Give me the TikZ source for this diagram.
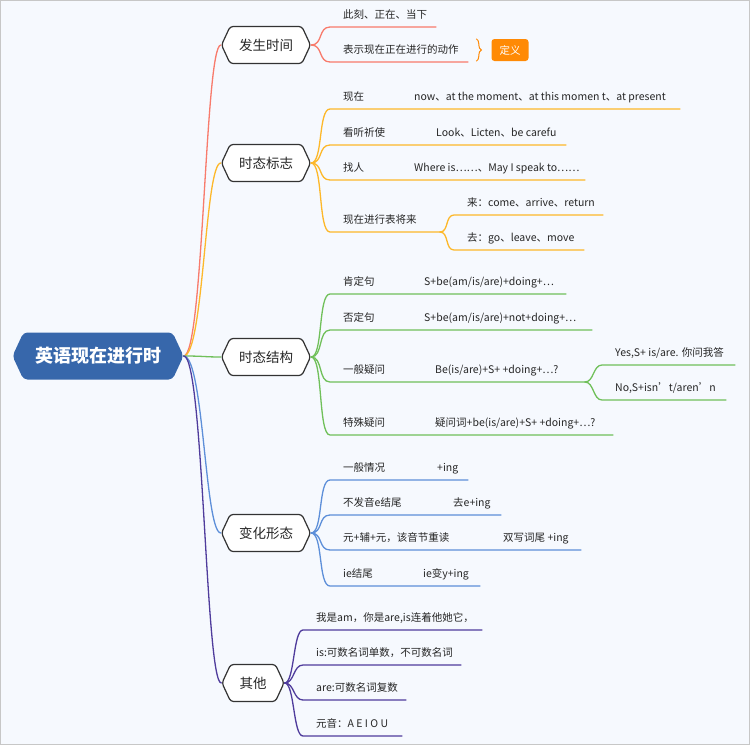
\documentclass[tikz,border=0pt]{standalone}
\usepackage{fontspec}
\setmainfont{Noto Sans CJK SC}
\usetikzlibrary{shapes.symbols, decorations.pathreplacing}
\definecolor{bgcol}{HTML}{F6F9FE}
\definecolor{rootcol}{HTML}{3767AB}
\definecolor{redcol}{HTML}{F87B6C}
\definecolor{yelcol}{HTML}{FDB82A}
\definecolor{grecol}{HTML}{70C05A}
\definecolor{blucol}{HTML}{5D8FD9}
\definecolor{purcol}{HTML}{4F3C9C}
\definecolor{defcol}{HTML}{FF8A05}
\tikzset{
  rootnode/.style={signal, signal to=east and west, signal pointer angle=130, fill=rootcol, rounded corners=4pt,
    minimum width=171pt, minimum height=47pt, inner sep=0pt, text=white, font=\fontsize{18}{20}\selectfont\bfseries},
  topic/.style={signal, signal to=east and west, signal pointer angle=130, draw=black!80, line width=1.2pt, fill=white,
    rounded corners=3pt, minimum width=89pt, minimum height=37pt, inner sep=0pt, text=black!85, font=\fontsize{13.5}{16}\selectfont},
  leaf/.style={anchor=south west, inner xsep=0pt, inner ysep=6pt, text height=9pt, text depth=2pt, text=black!85,
    font=\fontsize{10.5}{12}\selectfont},
  twig/.style={line width=1.3pt, line cap=round},
}

\begin{document}
\begin{tikzpicture}[x=1pt, y=-1pt]
  \fill[bgcol] (0,0) rectangle (750,745);
  \useasboundingbox (0,0) rectangle (750,745);
  \draw[black!22, line width=1pt] (0.5,0.5) rectangle (749.5,744.5);
  % Nodes
  \node[rootnode] (root) at (98,356) {英语现在进行时};
  \node[topic] (t1) at (266,45) {发生时间};
  \node[topic] (t2) at (266,163) {时态标志};
  \node[topic] (t3) at (266,357) {时态结构};
  \node[topic] (t4) at (266,533) {变化形态};
  \node[topic, minimum width=62pt] (t5) at (253,683) {其他};
  % Leaves: time
  \node[leaf] (a1) at (343,27) {此刻、正在、当下};
  \node[leaf] (a2) at (343,62) {表示现在正在进行的动作};
  \node[fill=defcol, rounded corners=3pt, minimum width=37pt, minimum height=22pt, inner sep=0pt, text=white,
    font=\fontsize{10.5}{12}\selectfont] (def) at (510,50) {定义};
  % Leaves: signal words
  \node[leaf] (b1) at (343,109) {现在};
  \node[leaf] (b1x) at (414,109) {now、at the moment、at this momen t、at present};
  \node[leaf] (b2) at (343,145) {看听祈使};
  \node[leaf] (b2x) at (436,145) {Look、Licten、be carefu};
  \node[leaf] (b3) at (343,180) {找人};
  \node[leaf] (b3x) at (414,180) {Where is……、May I speak to……};
  \node[leaf] (b4) at (343,232) {现在进行表将来};
  \node[leaf] (b5) at (467,215) {来：come、arrive、return};
  \node[leaf] (b6) at (467,250) {去：go、leave、move};
  % Leaves: structure
  \node[leaf] (c1) at (343,294) {肯定句};
  \node[leaf] (c1x) at (424,294) {S+be(am/is/are)+doing+…};
  \node[leaf] (c2) at (343,330) {否定句};
  \node[leaf] (c2x) at (424,330) {S+be(am/is/are)+not+doing+…};
  \node[leaf] (c3) at (343,382) {一般疑问};
  \node[leaf] (c3x) at (435,382) {Be(is/are)+S+ +doing+…?};
  \node[leaf] (c4) at (615,365) {Yes,S+ is/are. 你问我答};
  \node[leaf] (c5) at (615,400) {No,S+isn’t/aren’n};
  \node[leaf] (c6) at (343,435) {特殊疑问};
  \node[leaf] (c6x) at (435,435) {疑问词+be(is/are)+S+ +doing+…?};
  % Leaves: spelling
  \node[leaf] (d1) at (343,480) {一般情况};
  \node[leaf] (d1x) at (437,480) {+ing};
  \node[leaf] (d2) at (343,515) {不发音e结尾};
  \node[leaf] (d2x) at (453,515) {去e+ing};
  \node[leaf] (d3) at (343,550) {元+辅+元，该音节重读};
  \node[leaf] (d3x) at (503,550) {双写词尾 +ing};
  \node[leaf] (d4) at (343,586) {ie结尾};
  \node[leaf] (d4x) at (423,586) {ie变y+ing};
  % Leaves: other
  \node[leaf] (e1) at (316,630) {我是am，你是are,is连着他她它，};
  \node[leaf] (e2) at (316,665) {is:可数名词单数，不可数名词};
  \node[leaf] (e3) at (316,700) {are:可数名词复数};
  \node[leaf] (e4) at (316,736) {元音：A E I O U};
  % Paths
  \draw[twig, redcol] (root.east) .. controls +(20,0) and +(-16,0) .. (t1.west);
  \draw[twig, yelcol] (root.east) .. controls +(20,0) and +(-16,0) .. (t2.west);
  \draw[twig, grecol] (root.east) .. controls +(20,0) and +(-16,0) .. (t3.west);
  \draw[twig, blucol] (root.east) .. controls +(20,0) and +(-16,0) .. (t4.west);
  \draw[twig, purcol] (root.east) .. controls +(20,0) and +(-16,0) .. (t5.west);
  \foreach \leafname/\len in {a1/106, a2/138}
    \draw[twig, redcol] (t1.east) .. controls +(12,0) and +(-12,0) .. ([xshift=-13pt]\leafname.south west) -- ++(\len,0);
  \draw[defcol, line width=1pt, decorate, decoration={brace, amplitude=5pt}]
    ([xshift=-15pt]def.north west) -- ([xshift=-15pt]def.south west);
  \foreach \leafname/\len in {b1/350, b2/236, b3/255}
    \draw[twig, yelcol] (t2.east) .. controls +(12,0) and +(-12,0) .. ([xshift=-13pt]\leafname.south west) -- ++(\len,0);
  \draw[twig, yelcol] (t2.east) .. controls +(12,0) and +(-12,0) .. ([xshift=-13pt]b4.south west) -- ++(110,0) coordinate (b4e);
  \draw[twig, yelcol] (b4e) .. controls +(9,0) and +(-9,0) .. ([xshift=-13pt]b5.south west) -- ++(149,0);
  \draw[twig, yelcol] (b4e) .. controls +(9,0) and +(-9,0) .. ([xshift=-13pt]b6.south west) -- ++(130,0);
  \foreach \leafname/\len in {c1/236, c2/262, c6/283}
    \draw[twig, grecol] (t3.east) .. controls +(12,0) and +(-12,0) .. ([xshift=-13pt]\leafname.south west) -- ++(\len,0);
  \draw[twig, grecol] (t3.east) .. controls +(12,0) and +(-12,0) .. ([xshift=-13pt]c3.south west) -- ++(255,0) coordinate (c3e);
  \draw[twig, grecol] (c3e) .. controls +(9,0) and +(-9,0) .. ([xshift=-13pt]c4.south west) -- ++(133,0);
  \draw[twig, grecol] (c3e) .. controls +(9,0) and +(-9,0) .. ([xshift=-13pt]c5.south west) -- ++(124,0);
  \foreach \leafname/\len in {d1/138, d2/171, d3/251, d4/150}
    \draw[twig, blucol] (t4.east) .. controls +(12,0) and +(-12,0) .. ([xshift=-13pt]\leafname.south west) -- ++(\len,0);
  \foreach \leafname/\len in {e1/179, e2/158, e3/103, e4/99}
    \draw[twig, purcol] (t5.east) .. controls +(10,0) and +(-10,0) .. ([xshift=-13pt]\leafname.south west) -- ++(\len,0);
\end{tikzpicture}
\end{document}
